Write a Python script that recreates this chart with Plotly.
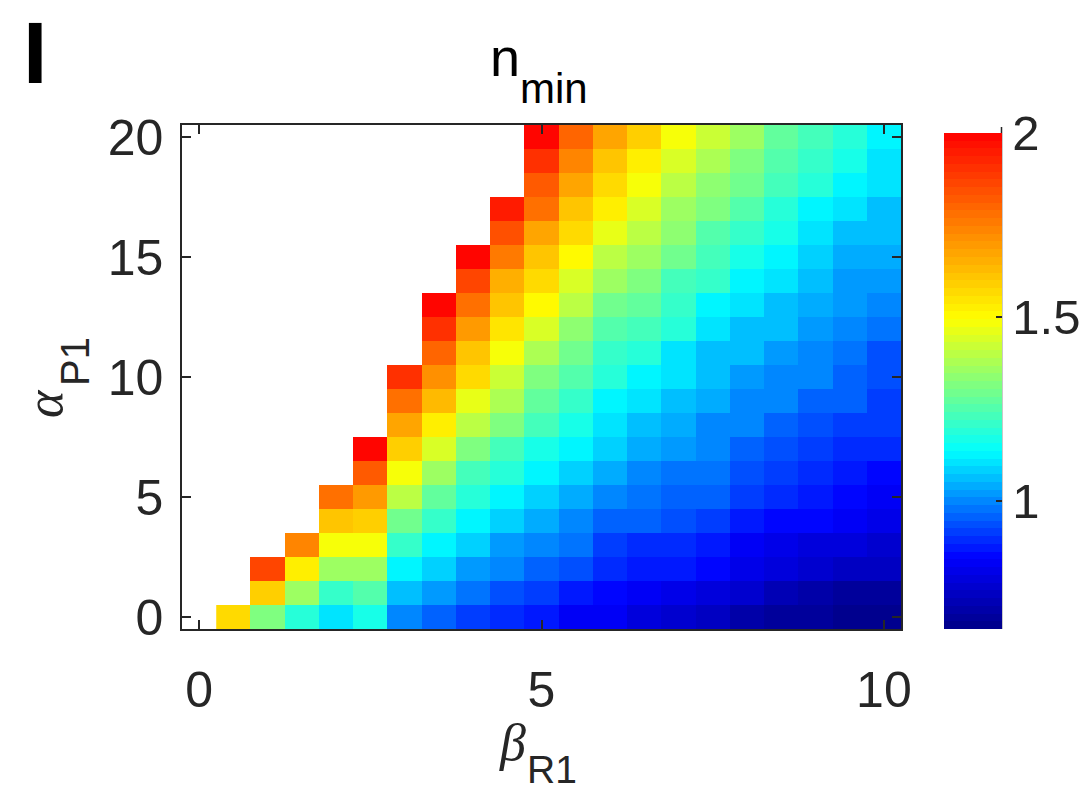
import plotly.graph_objects as go

# ---------------- data ----------------
beta_R1 = [0.5, 1.0, 1.5, 2.0, 2.5, 3.0, 3.5, 4.0, 4.5, 5.0,
           5.5, 6.0, 6.5, 7.0, 7.5, 8.0, 8.5, 9.0, 9.5, 10.0]
alpha_P1 = [0, 1, 2, 3, 4, 5, 6, 7, 8, 9, 10,
            11, 12, 13, 14, 15, 16, 17, 18, 19, 20]

# n_min per beta_R1 column, listed from alpha_P1 = 0 upward (missing = empty/white)
nmin_b0_5 = [1.56]
nmin_b1_0 = [1.32, 1.59, 1.86]
nmin_b1_5 = [1.18, 1.36, 1.52, 1.73]
nmin_b2_0 = [1.095, 1.21, 1.35, 1.48, 1.62, 1.785]
nmin_b2_5 = [1.16, 1.26, 1.36, 1.48, 1.59, 1.70, 1.82, 1.98]
nmin_b3_0 = [0.99, 1.063, 1.135, 1.207, 1.30, 1.39, 1.48, 1.59, 1.68, 1.785, 1.91]
nmin_b3_5 = [0.96, 1.03, 1.09, 1.135, 1.21, 1.28, 1.365, 1.44, 1.53, 1.625, 1.71,
             1.795, 1.90, 2.0]
nmin_b4_0 = [0.925, 0.97, 1.03, 1.08, 1.135, 1.18, 1.24, 1.32, 1.41, 1.47, 1.56,
             1.61, 1.70, 1.785, 1.86, 2.0]
nmin_b4_5 = [0.903, 0.937, 0.99, 1.03, 1.085, 1.12, 1.18, 1.24, 1.315, 1.38, 1.42,
             1.48, 1.55, 1.61, 1.645, 1.765, 1.84, 1.94]
nmin_b5_0 = [0.869, 0.914, 0.95, 0.99, 1.045, 1.085, 1.12, 1.165, 1.24, 1.28, 1.32,
             1.38, 1.44, 1.50, 1.57, 1.62, 1.68, 1.775, 1.83, 1.91, 2.0]
nmin_b5_5 = [0.84, 0.88, 0.937, 0.97, 1.005, 1.045, 1.08, 1.12, 1.165, 1.21, 1.25,
             1.29, 1.335, 1.39, 1.45, 1.50, 1.57, 1.62, 1.68, 1.735, 1.80]
nmin_b6_0 = [0.83, 0.86, 0.89, 0.925, 0.96, 1.005, 1.04, 1.08, 1.095, 1.135, 1.19,
             1.22, 1.26, 1.30, 1.35, 1.41, 1.46, 1.53, 1.57, 1.61, 1.67]
nmin_b6_5 = [0.79, 0.83, 0.87, 0.90, 0.95, 0.97, 1.005, 1.045, 1.06, 1.095, 1.135,
             1.185, 1.225, 1.265, 1.305, 1.35, 1.40, 1.44, 1.48, 1.53, 1.59]
nmin_b7_0 = [0.77, 0.80, 0.87, 0.90, 0.937, 0.96, 0.98, 1.015, 1.05, 1.06, 1.095,
             1.105, 1.18, 1.21, 1.24, 1.29, 1.335, 1.35, 1.40, 1.44, 1.48]
nmin_b7_5 = [0.74, 0.79, 0.846, 0.87, 0.914, 0.95, 0.97, 0.99, 1.005, 1.05, 1.06,
             1.07, 1.105, 1.135, 1.21, 1.24, 1.26, 1.32, 1.335, 1.38, 1.42]
nmin_b8_0 = [0.71, 0.76, 0.80, 0.84, 0.88, 0.914, 0.937, 0.96, 0.99, 1.005, 1.03,
             1.065, 1.07, 1.105, 1.135, 1.165, 1.21, 1.25, 1.29, 1.31, 1.35]
nmin_b8_5 = [0.68, 0.73, 0.78, 0.82, 0.86, 0.89, 0.914, 0.937, 0.96, 0.99, 1.01,
             1.03, 1.06, 1.07, 1.095, 1.12, 1.165, 1.19, 1.24, 1.25, 1.28]
nmin_b9_0 = [0.68, 0.71, 0.76, 0.79, 0.846, 0.87, 0.89, 0.914, 0.937, 0.96, 0.99,
             1.005, 1.015, 1.04, 1.07, 1.085, 1.105, 1.135, 1.19, 1.21, 1.24]
nmin_b9_5 = [0.67, 0.69, 0.75, 0.79, 0.83, 0.846, 0.88, 0.90, 0.925, 0.95, 0.96,
             0.98, 1.005, 1.015, 1.03, 1.04, 1.07, 1.105, 1.135, 1.165, 1.19]
nmin_b10_0 = [0.66, 0.69, 0.74, 0.77, 0.80, 0.83, 0.855, 0.89, 0.914, 0.925, 0.937,
              0.937, 0.98, 0.99, 1.015, 1.035, 1.06, 1.065, 1.095, 1.11, 1.135]

x_ticks = [0, 5, 10]
y_ticks = [0, 5, 10, 15, 20]
cbar_ticks = [1, 1.5, 2]
cbar_ticktext = ["1", "1.5", "2"]
z_min, z_max = 0.652, 2.0

# ---------------- build table ----------------
columns = [nmin_b0_5, nmin_b1_0, nmin_b1_5, nmin_b2_0, nmin_b2_5, nmin_b3_0,
           nmin_b3_5, nmin_b4_0, nmin_b4_5, nmin_b5_0, nmin_b5_5, nmin_b6_0,
           nmin_b6_5, nmin_b7_0, nmin_b7_5, nmin_b8_0, nmin_b8_5, nmin_b9_0,
           nmin_b9_5, nmin_b10_0]
z = []
for i in range(len(alpha_P1)):
    z.append([col[i] if i < len(col) else None for col in columns])

# jet-like colormap measured from the colorbar (value -> rgb), 64 discrete bands
cmap_vals = [0.652, 0.846, 1.136, 1.495, 2.0]
cmap_rgb = [(0, 0, 135), (0, 0, 255), (0, 255, 255), (255, 255, 0), (255, 0, 0)]


def cmap(v):
    for k in range(len(cmap_vals) - 1):
        if v <= cmap_vals[k + 1] or k == len(cmap_vals) - 2:
            t = (v - cmap_vals[k]) / (cmap_vals[k + 1] - cmap_vals[k])
            t = min(max(t, 0), 1)
            c0, c1 = cmap_rgb[k], cmap_rgb[k + 1]
            return "rgb(%d,%d,%d)" % tuple(round(a + (b - a) * t) for a, b in zip(c0, c1))


N = 64
colorscale = []
for i in range(N):
    v = z_min + (z_max - z_min) * (i + 0.5) / N
    c = cmap(v)
    colorscale.append([i / N, c])
    colorscale.append([(i + 1) / N, c])

# ---------------- layout geometry (pixels) ----------------
W, H = 1086, 791
L, R, T, B = 182, 901, 125, 629
PW, PH = R - L, B - T


def px(xp):
    return (xp - L) / PW


def py(yp):
    return (B - yp) / PH


INK = "#262626"
SANS = "Liberation Sans, Arial, sans-serif"
SERIF = "Liberation Serif, Times New Roman, serif"

fig = go.Figure()
fig.add_trace(go.Heatmap(
    x=beta_R1, y=alpha_P1, z=z,
    colorscale=colorscale, zmin=z_min, zmax=z_max,
    hoverongaps=False,
    colorbar=dict(
        x=px(944), xanchor="left", xpad=0,
        y=py(381), yanchor="middle", ypad=0,
        len=496, lenmode="pixels",
        thickness=58, thicknessmode="pixels",
        outlinewidth=0,
        tickvals=cbar_ticks, ticktext=cbar_ticktext,
        ticks="inside", ticklen=6, tickwidth=1.5, tickcolor=INK,
        tickfont=dict(family=SANS, size=49, color=INK),
    ),
))

axis_common = dict(
    ticks="inside", ticklen=9, tickwidth=1.5, tickcolor=INK,
    showline=True, linecolor=INK, linewidth=1.5, mirror="ticks",
    showgrid=False, zeroline=False,
    tickfont=dict(family=SANS, size=50, color=INK),
)
fig.update_xaxes(range=[-0.25, 10.25], tickvals=x_ticks, ticklabelstandoff=16,
                 **axis_common)
fig.update_yaxes(range=[-0.5, 20.5], tickvals=y_ticks, ticklabelstandoff=7,
                 **axis_common)

annotations = [
    # panel letter
    dict(text="<b>I</b>", x=px(20.7), y=py(52.5), xanchor="left", yanchor="middle",
         font=dict(family=SANS, size=88, color="black")),
    # title n_min
    dict(text="n", x=px(488), y=py(57), xanchor="left", yanchor="middle",
         font=dict(family=SANS, size=54, color="black")),
    dict(text="min", x=px(518), y=py(88), xanchor="left", yanchor="middle",
         font=dict(family=SANS, size=42, color="black")),
    # x label beta_R1
    dict(text="<i>β</i>", x=px(512.5), y=py(742), xanchor="center", yanchor="middle",
         font=dict(family=SERIF, size=52, color=INK)),
    dict(text="R1", x=px(552), y=py(769), xanchor="center", yanchor="middle",
         borderpad=0, font=dict(family=SANS, size=39, color=INK)),
    # y label alpha_P1
    dict(text="<i>α</i>", x=px(44), y=py(404), xanchor="center", yanchor="middle",
         textangle=-90, font=dict(family=SERIF, size=52, color=INK)),
    dict(text="P1", x=px(75), y=py(361), xanchor="center", yanchor="middle",
         textangle=-90, font=dict(family=SANS, size=40, color=INK)),
]
for a in annotations:
    a.update(xref="paper", yref="paper", showarrow=False)

fig.update_layout(
    width=W, height=H,
    margin=dict(l=L, r=W - R, t=T, b=H - B, pad=0, autoexpand=False),
    paper_bgcolor="white", plot_bgcolor="white",
    annotations=annotations,
    shapes=[dict(type="line", xref="paper", yref="paper",
                 x0=px(1001.5), x1=px(1001.5), y0=py(629), y1=py(127),
                 line=dict(color=INK, width=1.5))],
)

fig.write_html("out.html")
